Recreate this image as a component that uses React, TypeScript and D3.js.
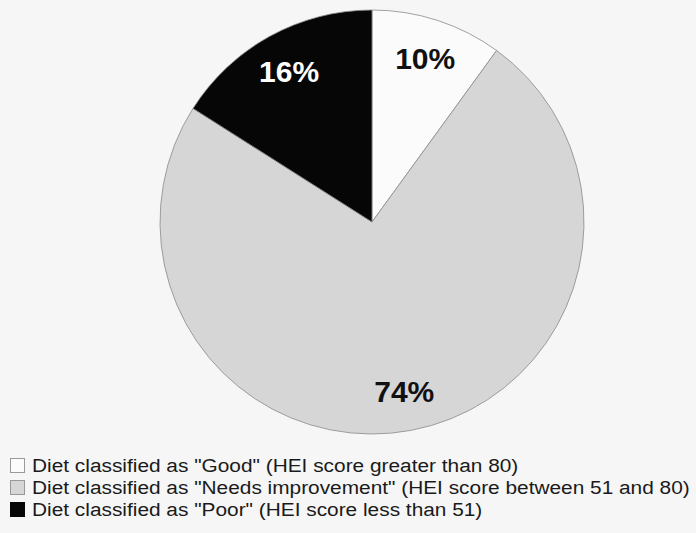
import React, { useEffect, useRef } from 'react';
import * as d3 from 'd3';

const categories = ['Good', 'Needs improvement', 'Poor'];
const shares = [10, 74, 16];
const sliceColors = ['#fbfbfb', '#d6d6d6', '#060606'];
const labelColors = ['#111111', '#111111', '#ffffff'];
const legendLabels = [
  'Diet classified as "Good" (HEI score greater than 80)',
  'Diet classified as "Needs improvement" (HEI score between 51 and 80)',
  'Diet classified as "Poor" (HEI score less than 51)',
];

const width = 696;
const height = 533;

const App = () => {
  const ref = useRef<SVGSVGElement>(null);

  useEffect(() => {
    const svg = d3.select(ref.current);
    svg.selectAll('*').remove();

    svg
      .append('rect')
      .attr('width', width)
      .attr('height', height)
      .attr('fill', '#f6f6f6');

    const cx = 372;
    const cy = 222;
    const radius = 212;

    const pie = d3
      .pie<number>()
      .sort(null)
      .value((d) => d);
    const arc = d3.arc<d3.PieArcDatum<number>>().innerRadius(0).outerRadius(radius);
    const labelArc = d3
      .arc<d3.PieArcDatum<number>>()
      .innerRadius(172)
      .outerRadius(172);

    const g = svg.append('g').attr('transform', `translate(${cx},${cy})`);
    const arcs = pie(shares);

    g.selectAll('path')
      .data(arcs)
      .enter()
      .append('path')
      .attr('d', arc)
      .attr('fill', (d, i) => sliceColors[i])
      .attr('stroke', '#8a8a8a')
      .attr('stroke-width', 0.8);

    // percentage labels
    g.selectAll('text')
      .data(arcs)
      .enter()
      .append('text')
      .attr('transform', (d) => `translate(${labelArc.centroid(d)})`)
      .attr('text-anchor', 'middle')
      .attr('dy', '0.36em')
      .attr('fill', (d, i) => labelColors[i])
      .style('font-family', 'Liberation Sans, Arial, sans-serif')
      .style('font-weight', 'bold')
      .style('font-size', '30px')
      .text((d) => `${d.data}%`);

    // legend
    const legend = svg.append('g').attr('transform', 'translate(10, 458)');
    const rowGap = 22;
    categories.forEach((c, i) => {
      legend
        .append('rect')
        .attr('x', 0.5)
        .attr('y', i * rowGap + 0.5)
        .attr('width', 14)
        .attr('height', 14)
        .attr('fill', sliceColors[i])
        .attr('stroke', i === 2 ? '#060606' : '#999999')
        .attr('stroke-width', 1);
    });

    const texts = legend.append('g').attr('transform', 'translate(22, 0)');
    legendLabels.forEach((t, i) => {
      texts
        .append('text')
        .attr('x', 0)
        .attr('y', i * rowGap + 7.5)
        .attr('dy', '0.35em')
        .attr('fill', '#1a1a1a')
        .style('font-family', 'Liberation Sans, Arial, sans-serif')
        .style('font-size', '19px')
        .text(t);
    });

    // squeeze the legend text so the longest row ends near the right edge
    const longest = texts.selectAll<SVGTextElement, unknown>('text').nodes()[1];
    const natural = longest.getComputedTextLength();
    const sx = (690 - 32) / natural;
    texts.attr('transform', `translate(22, 0) scale(${sx}, 1)`);
  }, []);

  return (
    <svg
      ref={ref}
      width={width}
      height={height}
      style={{ display: 'block', position: 'absolute', left: 0, top: 0 }}
    />
  );
};

export default App;
